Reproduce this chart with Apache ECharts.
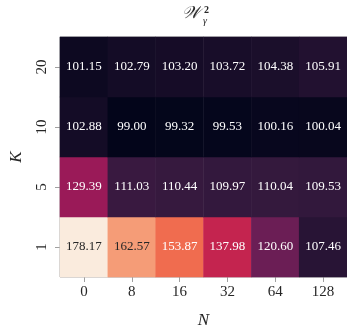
<!DOCTYPE html>
<html>
<head>
<meta charset="utf-8">
<script src="https://cdn.jsdelivr.net/npm/echarts@6/dist/echarts.min.js"></script>
<style>html,body{margin:0;padding:0;background:#fff}#c{width:347px;height:334px}</style>
</head>
<body>
<div id="c"></div>
<script>
var xCategories = ["0", "8", "16", "32", "64", "128"];
var yCategories = ["1", "5", "10", "20"];
var rowK1 = [178.17, 162.57, 153.87, 137.98, 120.60, 107.46];
var rowK5 = [129.39, 111.03, 110.44, 109.97, 110.04, 109.53];
var rowK10 = [102.88, 99.00, 99.32, 99.53, 100.16, 100.04];
var rowK20 = [101.15, 102.79, 103.20, 103.72, 104.38, 105.91];
var rows = [rowK1, rowK5, rowK10, rowK20];

var rocket = ["#03051a","#35193e","#701f57","#ad1759","#e13342","#f37651","#f6b48f","#faebdd"];
var vmin = 99.00, vmax = 178.17;

function hexToRgb(h){return [parseInt(h.substr(1,2),16),parseInt(h.substr(3,2),16),parseInt(h.substr(5,2),16)];}
function colorAt(v){
  var t = (v - vmin) / (vmax - vmin);
  t = Math.max(0, Math.min(1, t));
  var p = t * (rocket.length - 1);
  var i = Math.min(rocket.length - 2, Math.floor(p));
  var f = p - i;
  var a = hexToRgb(rocket[i]), b = hexToRgb(rocket[i+1]);
  return [a[0]+(b[0]-a[0])*f, a[1]+(b[1]-a[1])*f, a[2]+(b[2]-a[2])*f];
}
function lum(rgb){
  var c = rgb.map(function(x){x/=255;return x<=0.03928?x/12.92:Math.pow((x+0.055)/1.055,2.4);});
  return 0.2126*c[0]+0.7152*c[1]+0.0722*c[2];
}

var data = [];
rows.forEach(function(row, yi){
  row.forEach(function(v, xi){
    data.push({value:[xi, yi, v], label:{color: lum(colorAt(v)) > 0.408 ? "#262626" : "#ffffff"}});
  });
});

var serif = "'Liberation Serif', 'DejaVu Serif', serif";
var chart = echarts.init(document.getElementById('c'), null, {renderer:'canvas'});
chart.setOption({
  animation:false,
  backgroundColor:'#fff',
  grid:{left:47, top:37, width:301, height:249, show:true, borderColor:'#a0a0a0', borderWidth:1, backgroundColor:'transparent'},
  xAxis:{type:'category', data:xCategories, position:'bottom',
    name:'N', nameLocation:'middle', nameGap:35,
    nameTextStyle:{fontFamily:serif, fontStyle:'italic', fontSize:17, color:'#262626'},
    axisLine:{show:false}, splitLine:{show:false}, splitArea:{show:false},
    axisTick:{show:true, alignWithLabel:true, length:5, lineStyle:{color:'#a0a0a0'}},
    axisLabel:{fontFamily:serif, fontSize:15, color:'#262626', margin:8}},
  yAxis:{type:'category', data:yCategories,
    name:'K', nameLocation:'middle', nameGap:35, nameRotate:90,
    nameTextStyle:{fontFamily:serif, fontStyle:'italic', fontSize:17, color:'#262626'},
    axisLine:{show:false}, splitLine:{show:false}, splitArea:{show:false},
    axisTick:{show:true, alignWithLabel:true, length:5, lineStyle:{color:'#a0a0a0'}},
    axisLabel:{fontFamily:serif, fontSize:15, color:'#262626', rotate:90, margin:10}},
  visualMap:{show:false, min:vmin, max:vmax, dimension:2, inRange:{color:rocket}},
  series:[{type:'heatmap', data:data,
    label:{show:true, fontFamily:serif, fontSize:13, formatter:function(p){return p.value[2].toFixed(2);}},
    itemStyle:{borderWidth:0},
    emphasis:{disabled:true}}],
  graphic:[
    {type:'text', left:182, top:5, style:{text:'𝒲', font:"italic 17px " + serif, fill:'#262626'}},
    {type:'text', left:204, top:5, style:{text:'2', font:"bold 10px " + serif, fill:'#262626'}},
    {type:'text', left:203, top:16, style:{text:'γ', font:"italic 10px " + serif, fill:'#262626'}}
  ]
});
</script>
</body>
</html>
